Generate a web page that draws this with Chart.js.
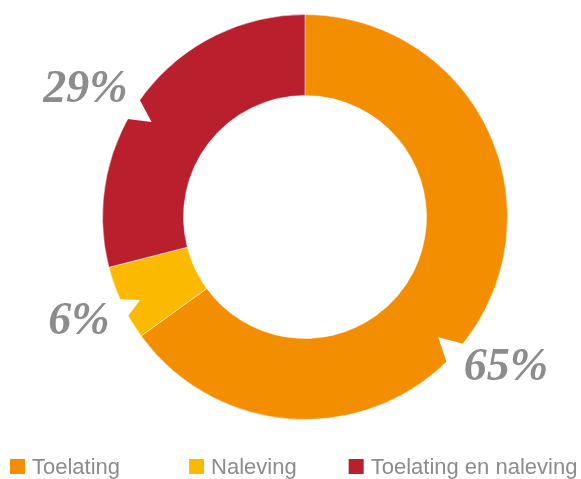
<!DOCTYPE html>
<html>
<head>
<meta charset="utf-8">
<script src="https://cdn.jsdelivr.net/npm/chart.js@4.4.1/dist/chart.umd.min.js"></script>
<style>
html, body { margin: 0; padding: 0; background: #fff; }
#wrap { width: 581px; height: 479px; position: relative; }
</style>
</head>
<body>
<div id="wrap"><canvas id="Chart"></canvas></div>
<script>
// categories and their shares (percent)
var categories = ["Toelating", "Naleving", "Toelating en naleving"];
var shares = [65, 6, 29];
var shareLabels = ["65%", "6%", "29%"];
var colours = ["#F28E00", "#FBBA00", "#B91F2D"];

// degrees clockwise from the top -> canvas point
function polar(cx, cy, r, deg) {
    var a = (deg - 90) * Math.PI / 180;
    return { x: cx + r * Math.cos(a), y: cy + r * Math.sin(a) };
}

// white bites cut into the ring next to each label, and the labels themselves
var labelPlugin = {
    id: 'ringLabels',
    afterDatasetsDraw: function (chart, args, opts) {
        var ctx = chart.ctx;
        var arc = chart.getDatasetMeta(0).data[0];
        var cx = arc.x, cy = arc.y, R = arc.outerRadius;
        ctx.save();
        ctx.fillStyle = '#fff';
        opts.notches.forEach(function (n) {
            var p1 = polar(cx, cy, R + 4, n.from);
            var p2 = polar(cx, cy, R - n.depth, n.tip);
            var p3 = polar(cx, cy, R + 4, n.to);
            ctx.beginPath();
            ctx.moveTo(p1.x, p1.y);
            ctx.lineTo(p2.x, p2.y);
            ctx.lineTo(p3.x, p3.y);
            ctx.closePath();
            ctx.fill();
        });
        ctx.fillStyle = opts.color;
        ctx.font = opts.font;
        ctx.textAlign = 'center';
        ctx.textBaseline = 'middle';
        opts.places.forEach(function (pl, i) {
            var p = polar(cx, cy, R + pl.offset, pl.angle);
            ctx.fillText(shareLabels[i], p.x, p.y);
        });
        ctx.restore();
    }
};

// legend drawn as one row along the bottom
var legendPlugin = {
    id: 'rowLegend',
    afterDraw: function (chart, args, opts) {
        var ctx = chart.ctx;
        var top = chart.height - opts.fromBottom;
        var x = opts.left;
        ctx.save();
        ctx.font = opts.font;
        ctx.textBaseline = 'middle';
        ctx.textAlign = 'left';
        categories.forEach(function (c, i) {
            ctx.fillStyle = colours[i];
            ctx.fillRect(x, top, opts.box, opts.box);
            ctx.fillStyle = opts.color;
            var tx = x + opts.box + opts.textGap;
            ctx.fillText(c, tx, top + opts.box / 2 + 1);
            x = tx + ctx.measureText(c).width + (opts.gaps[i] || 0);
        });
        ctx.restore();
    }
};

var ctx = document.getElementById('Chart').getContext('2d');
var chart = new Chart(ctx, {
    type: 'doughnut',
    data: {
        labels: categories,
        datasets: [{
            data: shares,
            backgroundColor: colours,
            borderColor: 'rgba(255,255,255,0.5)',
            borderWidth: 1
        }]
    },
    options: {
        responsive: true,
        maintainAspectRatio: false,
        animation: false,
        events: [],
        cutout: '60%',
        layout: { padding: { top: 14, bottom: 59, left: 29, right: 0 } },
        plugins: {
            legend: { display: false },
            tooltip: { enabled: false },
            ringLabels: {
                font: "italic bold 46px 'Liberation Serif', 'Times New Roman', serif",
                color: '#8c8c8c',
                notches: [
                    { from: 128.2, tip: 132.1, to: 136.2, depth: 23 },
                    { from: 240.3, tip: 243.3, to: 246.6, depth: 18 },
                    { from: 298.5, tip: 301.8, to: 305.9, depth: 22 }
                ],
                places: [
                    { angle: 127, offset: 49 },
                    { angle: 245, offset: 47 },
                    { angle: 300, offset: 51 }
                ]
            },
            rowLegend: {
                font: "22px 'Liberation Sans', Arial, sans-serif",
                color: '#8c8c8c',
                left: 10,
                fromBottom: 20,
                box: 15,
                textGap: 7,
                gaps: [69, 52]
            }
        }
    },
    plugins: [labelPlugin, legendPlugin]
});
</script>
</body>
</html>
